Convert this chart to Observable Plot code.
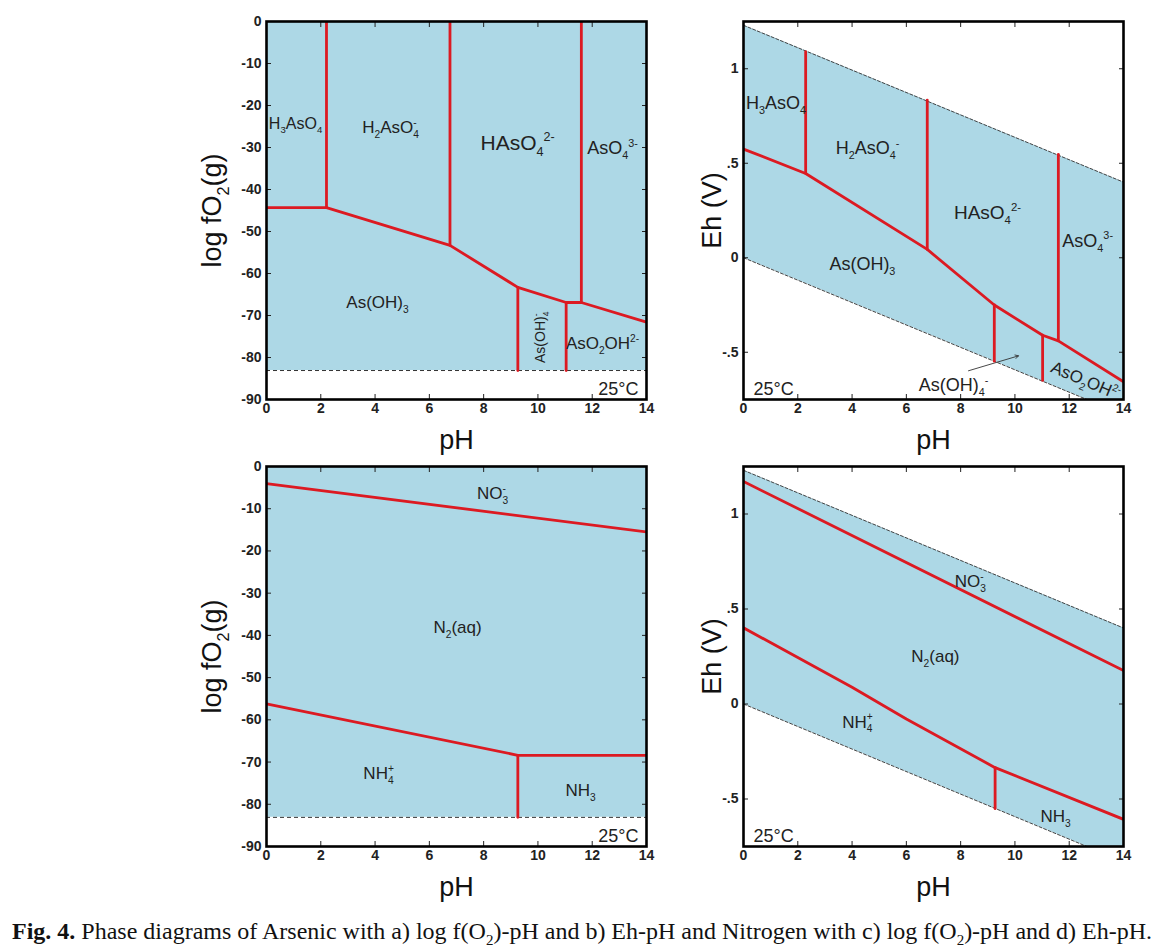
<!DOCTYPE html>
<html><head><meta charset="utf-8">
<script src="https://cdn.jsdelivr.net/npm/d3@7"></script>
<script src="https://cdn.jsdelivr.net/npm/@observablehq/plot@0.6"></script>
<style>
body{margin:0;background:#fff;}
#wrap{position:relative;width:1171px;height:952px;overflow:hidden;font-family:"Liberation Sans",Arial,sans-serif;background:#fff;}
.panel{position:absolute;}
.panel svg{overflow:visible;}
#caption{position:absolute;left:12px;top:917px;font-family:"Liberation Serif","Times New Roman",serif;font-size:24px;white-space:nowrap;color:#111;line-height:28px;}
#caption sub{font-size:15px;line-height:0;}
</style></head>
<body><div id="wrap">
<div class="panel" id="pa" style="left:180px;top:0px"></div>
<div class="panel" id="pb" style="left:690px;top:0px"></div>
<div class="panel" id="pc" style="left:180px;top:450px"></div>
<div class="panel" id="pd" style="left:690px;top:450px"></div>
<div id="caption"><b>Fig. 4.</b> Phase diagrams of Arsenic with a) log f(O<sub>2</sub>)-pH and b) Eh-pH and Nitrogen with c) log f(O<sub>2</sub>)-pH and d) Eh-pH.</div>
</div>
<script>
// ---------- axes ----------
const phTicks = [0, 2, 4, 6, 8, 10, 12, 14];
const fO2Ticks = [-90, -80, -70, -60, -50, -40, -30, -20, -10, 0];
const fO2TickLabels = ["-90", "-80", "-70", "-60", "-50", "-40", "-30", "-20", "-10", "0"];
const ehTicks = [-0.5, 0, 0.5, 1];
const ehTickLabels = ["-.5", "0", ".5", "1"];

// ---------- water stability limits ----------
const limitPH = [0, 14];
const fO2Floor = [-83.1, -83.1];
const fO2Ceiling = [0, 0];
const ehUpperLimit = [1.23, 0.40];
const ehLowerLimit = [0, -0.83];

// ---------- a) Arsenic, log fO2 - pH : [pH, log fO2] ----------
const asFO2Redox = [[0, -44.3], [2.21, -44.3], [6.76, -53.3], [9.26, -63.3], [11.04, -66.9], [11.6, -66.9], [14, -71.6]];
const asFO2H3H2 = [[2.21, 0], [2.21, -44.3]];
const asFO2H2H = [[6.76, 0], [6.76, -53.3]];
const asFO2HAsO4 = [[11.6, 0], [11.6, -66.9]];
const asFO2OH3OH4 = [[9.26, -63.3], [9.26, -83.1]];
const asFO2OH4AsO2 = [[11.04, -66.9], [11.04, -83.1]];
const asFO2Labels = [
  {t: "H_3AsO_4", x: 1.07, y: -24.3, s: 16, r: 0},
  {t: "H_2AsO_4|-", x: 4.57, y: -25.2, s: 17, r: 0},
  {t: "HAsO_4^2-", x: 9.25, y: -29.0, s: 21, r: 0},
  {t: "AsO_4^3-", x: 12.75, y: -30.2, s: 18, r: 0},
  {t: "As(OH)_3", x: 4.09, y: -66.9, s: 17, r: 0},
  {t: "As(OH)_4|-", x: 10.1, y: -75.2, s: 14, r: -90},
  {t: "AsO_2OH^2-", x: 12.38, y: -76.7, s: 17, r: 0}
];

// ---------- b) Arsenic, Eh - pH : [pH, Eh] ----------
const asEhRedox = [[0, 0.575], [2.29, 0.446], [6.77, 0.044], [9.24, -0.25], [11.02, -0.41], [11.6, -0.44], [14, -0.656]];
const asEhH3H2 = [[2.29, 1.09], [2.29, 0.446]];
const asEhH2H = [[6.77, 0.834], [6.77, 0.044]];
const asEhHAsO4 = [[11.6, 0.547], [11.6, -0.44]];
const asEhOH3OH4 = [[9.24, -0.25], [9.24, -0.547]];
const asEhOH4AsO2 = [[11.02, -0.41], [11.02, -0.649]];
const asEhLabels = [
  {t: "H_3AsO_4", x: 1.2, y: 0.82, s: 18, r: 0},
  {t: "H_2AsO_4^-", x: 4.57, y: 0.577, s: 18, r: 0},
  {t: "HAsO_4^2-", x: 8.99, y: 0.238, s: 19, r: 0},
  {t: "AsO_4^3-", x: 12.68, y: 0.09, s: 18, r: 0},
  {t: "As(OH)_3", x: 4.38, y: -0.032, s: 18, r: 0},
  {t: "As(OH)_4^-", x: 7.74, y: -0.677, s: 18, r: 0},
  {t: "AsO_2OH^2-", x: 12.6, y: -0.651, s: 17, r: 23}
];
const asEhPointer = [{x1: 8.29, y1: -0.598, x2: 10.13, y2: -0.519}];

// ---------- c) Nitrogen, log fO2 - pH ----------
const nFO2Nitrate = [[0, -4.06], [14, -15.5]];
const nFO2Ammonium = [[0, -56.2], [9.26, -68.4], [14, -68.4]];
const nFO2NH4NH3 = [[9.26, -68.4], [9.26, -83.1]];
const nFO2Labels = [
  {t: "NO_3|-", x: 8.33, y: -6.4, s: 17, r: 0},
  {t: "N_2(aq)", x: 7.04, y: -38.1, s: 17, r: 0},
  {t: "NH_4|+", x: 4.13, y: -72.7, s: 17, r: 0},
  {t: "NH_3", x: 11.57, y: -76.7, s: 17, r: 0}
];

// ---------- d) Nitrogen, Eh - pH ----------
const nEhNitrate = [[0, 1.171], [14, 0.176]];
const nEhAmmonium = [[0, 0.401], [4, 0.088], [6, -0.079], [9.27, -0.335], [14, -0.607]];
const nEhNH4NH3 = [[9.27, -0.335], [9.27, -0.551]];
const nEhLabels = [
  {t: "NO_3|-", x: 8.36, y: 0.645, s: 17, r: 0},
  {t: "N_2(aq)", x: 7.07, y: 0.248, s: 17, r: 0},
  {t: "NH_4|+", x: 4.2, y: -0.095, s: 17, r: 0},
  {t: "NH_3", x: 11.5, y: -0.592, s: 17, r: 0}
];

// ---------- styling ----------
const RED = "#dc1a22";
const FILL = "#add8e6";
const INK = "#222";

const rows = (segs) => segs.flatMap((seg, k) => seg.map(([x, y]) => ({x, y, k})));
const limitRows = (lo, hi) => limitPH.map((x, i) => ({x, lo: lo[i], hi: hi[i]}));

function commonMarks(yTicks, yFormat, yTitle, yTitleDx, labels, lines, x25anchor) {
  return [
    Plot.line(rows(lines), {x: "x", y: "y", z: "k", stroke: RED, strokeWidth: 2.8, clip: true}),
    Plot.text(labels, {x: "x", y: "y", text: "t", fontSize: "s", rotate: "r", fill: INK}),
    Plot.text(["25°C"], x25anchor === "right"
      ? {frameAnchor: "bottom-right", textAnchor: "end", lineAnchor: "bottom", dx: -8, dy: -5, fontSize: 18, fill: INK}
      : {frameAnchor: "bottom-left", textAnchor: "start", lineAnchor: "bottom", dx: 10, dy: -5, fontSize: 18, fill: INK}),
    Plot.axisX(phTicks, {anchor: "bottom", tickSize: -5, tickPadding: 9, label: null, fontSize: 14, fontWeight: "bold", fill: INK, stroke: INK, tickFormat: d => String(d)}),
    Plot.axisX(phTicks, {anchor: "top", tickSize: -5, label: null, stroke: INK, tickFormat: () => ""}),
    Plot.axisY(yTicks, {anchor: "left", tickSize: -5, tickPadding: 10, label: null, fontSize: 14, fontWeight: "bold", fill: INK, stroke: INK, tickFormat: yFormat}),
    Plot.axisY(yTicks, {anchor: "right", tickSize: -5, label: null, stroke: INK, tickFormat: () => ""}),
    Plot.frame({stroke: "#000", strokeWidth: 2.6}),
    Plot.text([yTitle], {frameAnchor: "left", textAnchor: "middle", lineAnchor: "middle", rotate: -90, dx: yTitleDx, fontSize: 27, fill: "#111"}),
    Plot.text(["pH"], {frameAnchor: "bottom", textAnchor: "middle", lineAnchor: "middle", dy: 41, fontSize: 27, fill: "#111"})
  ];
}

function makePlot(margins, yDomain, marks) {
  return Plot.plot({
    width: 480, height: 460, ...margins,
    x: {domain: [0, 14]},
    y: {domain: yDomain},
    style: {fontFamily: "'Liberation Sans', Arial, sans-serif", fontSize: "14px", background: "none", overflow: "visible"},
    marks
  });
}

const fO2Format = d => fO2TickLabels[fO2Ticks.indexOf(d)];
const ehFormat = d => ehTickLabels[ehTicks.indexOf(d)];

function fO2Panel(id, margins, labels, lines) {
  const lim = limitRows(fO2Floor, fO2Ceiling);
  const svg = makePlot(margins, [-90, 0], [
    Plot.areaY(lim, {x: "x", y1: "lo", y2: "hi", fill: FILL}),
    Plot.ruleY([fO2Floor[0]], {stroke: "#333", strokeWidth: 1, strokeDasharray: "4,3"}),
    ...commonMarks(fO2Ticks, fO2Format, "log fO_2(g)", -54, labels, lines, "right")
  ]);
  document.getElementById(id).appendChild(svg);
  richify(svg);
}

function ehPanel(id, margins, labels, lines, extra = []) {
  const lim = limitRows(ehLowerLimit, ehUpperLimit);
  const svg = makePlot(margins, [-0.75, 1.25], [
    Plot.areaY(lim, {x: "x", y1: "lo", y2: "hi", fill: FILL, clip: true}),
    Plot.line(lim, {x: "x", y: "hi", stroke: "#444", strokeWidth: 1, strokeDasharray: "3,2", clip: true}),
    Plot.line(lim, {x: "x", y: "lo", stroke: "#444", strokeWidth: 1, strokeDasharray: "3,2", clip: true}),
    ...extra,
    ...commonMarks(ehTicks, ehFormat, "Eh (V)", -31, labels, lines, "left")
  ]);
  document.getElementById(id).appendChild(svg);
  richify(svg);
}

// subscript / superscript rendering: _x subscript, ^x superscript, |x superscript stacked over subscript
function richify(svg) {
  const NS = "http://www.w3.org/2000/svg";
  svg.querySelectorAll("text").forEach(t => {
    const s = t.textContent;
    if (!/[_^|]/.test(s)) return;
    const fs = parseFloat(getComputedStyle(t).fontSize) || 14;
    const re = /([_^|])([0-9+\-]+)|([^_^|]+)/g;
    const parts = [];
    let m;
    while ((m = re.exec(s))) parts.push(m[3] ? {k: "n", v: m[3]} : {k: m[1], v: m[2]});
    while (t.firstChild) t.removeChild(t.firstChild);
    let cur = 0, lastSubW = 0;
    for (const p of parts) {
      const ts = document.createElementNS(NS, "tspan");
      ts.textContent = p.v;
      let target = 0;
      if (p.k === "_") target = 0.28 * fs;
      else if (p.k === "^" || p.k === "|") target = -0.42 * fs;
      ts.setAttribute("dy", (target - cur).toFixed(2));
      cur = target;
      if (p.k !== "n") ts.setAttribute("font-size", (0.6 * fs).toFixed(1));
      t.appendChild(ts);
      if (p.k === "|" && lastSubW) ts.setAttribute("dx", (-lastSubW).toFixed(2));
      if (p.k === "_") lastSubW = ts.getComputedTextLength(); else if (p.k === "n") lastSubW = 0;
    }
  });
}

fO2Panel("pa", {marginLeft: 86, marginRight: 14, marginTop: 21, marginBottom: 61}, asFO2Labels,
  [asFO2Redox, asFO2H3H2, asFO2H2H, asFO2HAsO4, asFO2OH3OH4, asFO2OH4AsO2]);
ehPanel("pb", {marginLeft: 53, marginRight: 47, marginTop: 21, marginBottom: 61}, asEhLabels,
  [asEhRedox, asEhH3H2, asEhH2H, asEhHAsO4, asEhOH3OH4, asEhOH4AsO2],
  [Plot.arrow(asEhPointer, {x1: "x1", y1: "y1", x2: "x2", y2: "y2", stroke: "#333", strokeWidth: 0.9, headLength: 6})]);
fO2Panel("pc", {marginLeft: 86, marginRight: 14, marginTop: 16, marginBottom: 64}, nFO2Labels,
  [nFO2Nitrate, nFO2Ammonium, nFO2NH4NH3]);
ehPanel("pd", {marginLeft: 53, marginRight: 47, marginTop: 16, marginBottom: 64}, nEhLabels,
  [nEhNitrate, nEhAmmonium, nEhNH4NH3]);
</script>
</body></html>
